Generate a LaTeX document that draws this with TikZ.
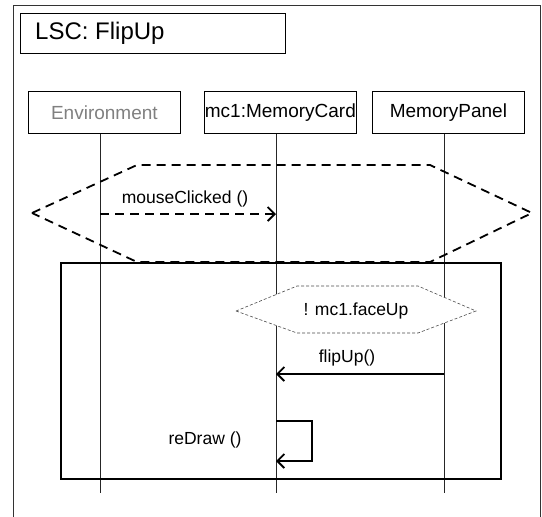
\documentclass[tikz,border=0pt]{standalone}
\usepackage{fontspec}
\setmainfont{Liberation Sans}
\usetikzlibrary{arrows.meta}
\begin{document}
\begin{tikzpicture}[x=1pt,y=-1pt,
  lifebox/.style={draw=black,line width=0.8pt,minimum width=152pt,minimum height=42pt,inner sep=0pt,font=\fontsize{19}{22}\selectfont,anchor=north west},
  life/.style={line width=0.8pt,draw=black!85},
  bigdash/.style={line width=1.8pt,dash pattern=on 9pt off 6pt},
  smalldash/.style={line width=0.6pt,dash pattern=on 3pt off 2pt,draw=black!70},
  lbl/.style={font=\fontsize{17.5}{20}\selectfont,inner sep=1pt},
  barb/.style={-{Straight Barb[length=7pt,width=14pt,line width=1.8pt]}}
]
\useasboundingbox (0,0) rectangle (542,517);
% outer frame
\draw[line width=0.9pt,draw=black!80] (13,520) -- (13,5) -- (540,5) -- (540,520);
% title
\node[draw=black,line width=0.8pt,anchor=north west,minimum width=265pt,minimum height=40pt,inner sep=0pt] (title) at (20,13) {};
\node[font=\fontsize{24}{28}\selectfont,anchor=west,inner sep=0pt] (titletext) at (35,33) {LSC: FlipUp};
% lifeline boxes
\node[lifebox,text=black!50] (env) at (28,91) {Environment};
\node[lifebox] (mc) at (204,91) {mc1:MemoryCard};
\node[lifebox] (mp) at (372,91) {MemoryPanel};
\coordinate (envend) at (100,493);
\coordinate (mcend) at (276,493);
\coordinate (mpend) at (444,493);
\draw[life] (env.south -| envend) -- (envend);
\draw[life] (mc.south -| mcend) -- (mcend);
\draw[life] (mp.south -| mpend) -- (mpend);
% big dashed hexagon
\draw[bigdash] (32,213) -- (137,165) -- (430,165) -- (532,213) -- (430,262) -- (137,262) -- cycle;
% mouseClicked
\coordinate (m1) at (100,214);
\coordinate (m2) at (276,214);
\draw[bigdash,barb] (m1) -- (m2);
\node[lbl] (mlbl) at (185,199) {mouseClicked ()};
% inner box
\node[draw=black,line width=2.4pt,anchor=north west,minimum width=440pt,minimum height=216pt,inner sep=0pt] (inner) at (60,262) {};
% small hexagon
\draw[smalldash,fill=white] (236,311) -- (297,286) -- (418,286) -- (476,311) -- (418,333) -- (297,333) -- cycle;
\node[lbl] (cond) at (356,311) {! mc1.faceUp};
% flipUp
\coordinate (f1) at (444,374);
\coordinate (f2) at (276,374);
\draw[line width=1.8pt,barb] (f1) -- (f2);
\node[lbl] (flbl) at (347,358) {flipUp()};
% reDraw
\coordinate (r1) at (276,421);
\coordinate (r2) at (276,461);
\draw[line width=1.8pt,barb] (r1) -- (312,421) -- (312,461) -- (r2);
\node[lbl] (rlbl) at (205,440) {reDraw ()};
\end{tikzpicture}
\end{document}
